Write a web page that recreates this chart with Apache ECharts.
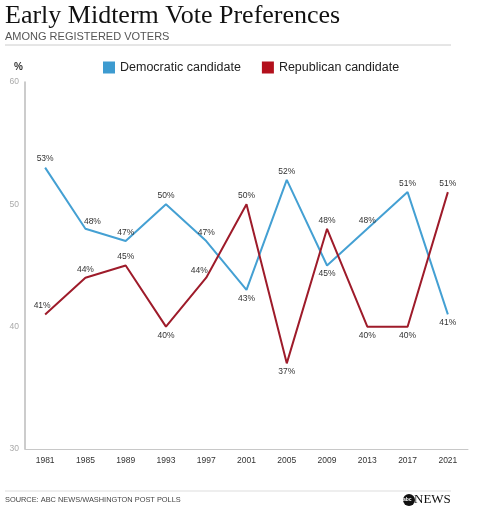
<!DOCTYPE html>
<html><head><meta charset="utf-8">
<script src="https://cdn.jsdelivr.net/npm/echarts@6/dist/echarts.min.js"></script>
<style>html,body{margin:0;padding:0;background:#fff}#c{width:480px;height:515px}</style>
</head><body><div id="c"></div>
<script>
const years = ['1981','1985','1989','1993','1997','2001','2005','2009','2013','2017','2021'];
const democratic = [53,48,47,50,47,43,52,45,48,51,41];
const republican = [41,44,45,40,44,50,37,48,40,40,51];
const demLabelPos = ['top','top','top','top','top','bottom','top','bottom','top','top','bottom'];
const repLabelPos = ['top','top','top','bottom','top','top','bottom','top','bottom','bottom','top'];
const yTicks = [30,40,50,60];

const chart = echarts.init(document.getElementById('c'), null, {renderer:'canvas'});
const labelOffsets = {dem:{1:[7,1]}, rep:{0:[-3,0],4:[-7,1]}};
const mk = (vals, pos, key) => vals.map((v,i)=>({value:v, label:{position:pos[i], offset:labelOffsets[key][i]||[0,0]}}));
chart.setOption({
  animation:false,
  backgroundColor:'#fff',
  textStyle:{fontFamily:'Liberation Sans, Arial, sans-serif'},
  legend:{
    left:103, top:61, padding:0, itemWidth:12, itemHeight:12, itemGap:21, icon:'rect',
    textStyle:{fontSize:12.5, color:'#222', padding:[0,0,0,0]},
    data:['Democratic candidate','Republican candidate']
  },
  grid:{left:25, right:12, top:82, bottom:66},
  xAxis:{type:'category', data:years, boundaryGap:true,
    axisLine:{lineStyle:{color:'#c8c8c8', width:1}}, axisTick:{show:false},
    axisLabel:{fontSize:8.5, color:'#333', margin:7}},
  yAxis:{type:'value', min:yTicks[0], max:yTicks[yTicks.length-1], interval:10,
    axisLine:{show:true, lineStyle:{color:'#bbb', width:1.5}}, axisTick:{show:false},
    splitLine:{show:false},
    axisLabel:{fontSize:8.5, color:'#aaa', margin:6}},
  series:[
    {name:'Democratic candidate', type:'line', data:mk(democratic, demLabelPos, 'dem'),
     symbol:'circle', symbolSize:0, showSymbol:true, lineStyle:{color:'#44a0d3', width:2}, itemStyle:{color:'#3d9bd0'},
     label:{show:true, formatter:'{c}%', fontSize:8.5, color:'#333', distance:4}},
    {name:'Republican candidate', type:'line', data:mk(republican, repLabelPos, 'rep'),
     symbol:'circle', symbolSize:0, showSymbol:true, lineStyle:{color:'#9e1b2a', width:2}, itemStyle:{color:'#b3101c'},
     label:{show:true, formatter:'{c}%', fontSize:8.5, color:'#333', distance:4}}
  ],
  graphic:[
    {type:'text', left:5, top:3, style:{text:'Early Midterm Vote Preferences', font:'26px "Liberation Serif", serif', fill:'#111'}},
    {type:'text', left:5, top:31, style:{text:'AMONG REGISTERED VOTERS', font:'11px "Liberation Sans", sans-serif', fill:'#555'}},
    {type:'line', shape:{x1:5,y1:45,x2:451,y2:45}, style:{stroke:'#ccc', lineWidth:1}},
    {type:'text', left:14, top:62, style:{text:'%', font:'bold 10px "Liberation Sans", sans-serif', fill:'#333'}},
    {type:'line', shape:{x1:5,y1:491,x2:451,y2:491}, style:{stroke:'#ddd', lineWidth:1}},
    {type:'text', left:5, top:496, style:{text:'SOURCE: ABC NEWS/WASHINGTON POST POLLS', font:'7.4px "Liberation Sans", sans-serif', fill:'#444'}},
    {type:'circle', shape:{cx:409, cy:500, r:6}, style:{fill:'#111'}},
    {type:'text', left:403, top:497, style:{text:'abc', font:'bold 5px "Liberation Sans", sans-serif', fill:'#fff'}},
    {type:'text', left:414, top:493, style:{text:'NEWS', font:'13px "Liberation Serif", serif', fill:'#111'}}
  ]
});
</script></body></html>
